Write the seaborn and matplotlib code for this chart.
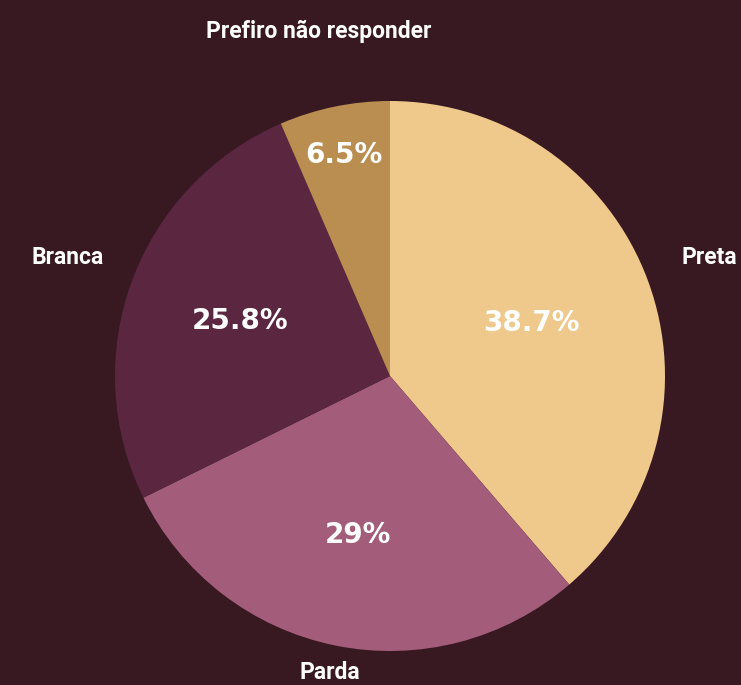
import numpy as np
import matplotlib
matplotlib.use("Agg")
import matplotlib.pyplot as plt
import seaborn as sns

categories = ["Preta", "Parda", "Branca", "Prefiro não responder"]
values = [38.7, 29.0, 25.8, 6.5]
pct_labels = ["38.7%", "29%", "25.8%", "6.5%"]
colors = ["#EFC88B", "#A35C7A", "#5A2640", "#B98E50"]

sns.set_theme(style="white")
plt.rcParams["font.family"] = ["Roboto", "DejaVu Sans"]

BG = "#381922"
W, H = 741, 685
fig = plt.figure(figsize=(W / 100, H / 100), dpi=100, facecolor=BG)
cx, cy, r = 390, 376, 275
ax = fig.add_axes([(cx - r) / W, (H - cy - r) / H, 2 * r / W, 2 * r / H])
ax.set_facecolor(BG)

wedges, texts = ax.pie(values, colors=colors, startangle=90, counterclock=False,
                       radius=1.0, wedgeprops=dict(linewidth=0),
                       labels=categories, labeldistance=1.2,
                       textprops=dict(color="white", fontsize=16.5, fontweight="bold"))
label_dist = [1.24, 1.10, 1.25, 1.28]
pct_dist = [0.55, 0.59, 0.58, 0.82]
for w, t, ld, pdist, pl in zip(wedges, texts, label_dist, pct_dist, pct_labels):
    ang = np.deg2rad((w.theta1 + w.theta2) / 2)
    t.set_position((ld * np.cos(ang), ld * np.sin(ang)))
    t.set_ha("center")
    t.set_va("center")
    ax.text(pdist * np.cos(ang), pdist * np.sin(ang), pl, ha="center", va="center",
            color="white", fontsize=20, fontweight="bold", family=["DejaVu Sans"])
ax.set_xlim(-1, 1)
ax.set_ylim(-1, 1)
ax.set_aspect("equal")
ax.axis("off")
fig.savefig("out.png", dpi=100, facecolor=BG)
